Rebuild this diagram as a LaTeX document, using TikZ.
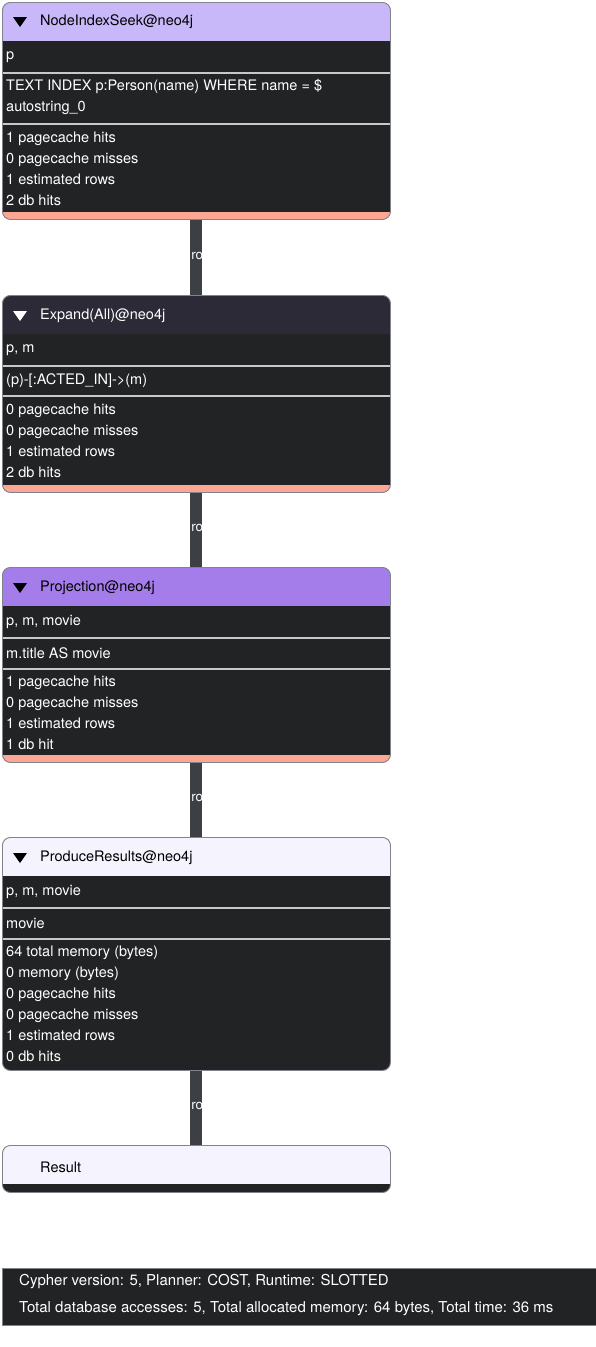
\documentclass[tikz,border=0pt]{standalone}
\usepackage{fontspec}
\setmainfont{TeX Gyre Heros}
\usetikzlibrary{positioning}

\definecolor{seekhead}{HTML}{C9B8F9}
\definecolor{expandhead}{HTML}{2B2A36}
\definecolor{projhead}{HTML}{A47DEA}
\definecolor{lighthead}{HTML}{F5F3FE}
\definecolor{bodybg}{HTML}{222325}
\definecolor{boxline}{HTML}{80838C}
\definecolor{sepgray}{HTML}{C8C8CA}
\definecolor{salmon}{HTML}{FBA794}
\definecolor{connbg}{HTML}{3C3F44}

\begin{document}
\begin{tikzpicture}[
    x=1pt, y=-1pt, % pixel coordinates, y grows downwards
    font=\fontsize{14.5}{21}\selectfont,
    opbox/.style 2 args={draw=boxline, line width=0.9pt, fill=bodybg, rounded corners=8pt,
        minimum width=388pt, inner sep=0pt, anchor=north west,
        path picture={
            \fill[#1, sharp corners] (path picture bounding box.north west) rectangle ([yshift=-38.5pt]path picture bounding box.north east);
            \fill[#2, sharp corners] (path picture bounding box.south west) rectangle ([yshift=7pt]path picture bounding box.south east);}},
    titletext/.style={anchor=west, inner sep=0pt},
    rowtext/.style={anchor=west, inner sep=0pt, text=white, align=left},
    sepline/.style={draw=sepgray, line width=1.5pt},
    conn/.style={draw=connbg, line width=12pt},
    rowlabel/.style={text=white, inner sep=0pt, font=\fontsize{13.5}{13.5}\selectfont}
]
\useasboundingbox (0,0) rectangle (595,1347);

% NodeIndexSeek
\node (seek) [opbox={seekhead}{salmon}, minimum height=217pt] at (2,2) {};
\node (seek_title) [titletext] at (40,22) {NodeIndexSeek@neo4j};
\fill ([xshift=-27pt, yshift=5pt]seek_title.west) -- ++(14,0) -- ++(-7,10) -- cycle;
\node (seek_vars) [rowtext] at (6,57) {p};
\draw[sepline] (2.5,73) -- (389.5,73);
\node (seek_args) [rowtext] at (6,96.5) {TEXT INDEX p:Person(name) WHERE name = \$\\autostring\_0};
\draw[sepline] (2.5,124) -- (389.5,124);
\node (seek_stats) [rowtext] at (6,168.5) {1 pagecache hits\\0 pagecache misses\\1 estimated rows\\2 db hits};

% Expand(All)
\node (expand) [opbox={expandhead}{salmon}, minimum height=197pt] at (2,295) {};
\node (expand_title) [titletext, text=white] at (40,316) {Expand(All)@neo4j};
\fill[white] ([xshift=-27pt, yshift=5pt]expand_title.west) -- ++(14,0) -- ++(-7,10) -- cycle;
\node (expand_vars) [rowtext] at (6,350) {p, m};
\draw[sepline] (2.5,366) -- (389.5,366);
\node (expand_args) [rowtext] at (6,381) {(p)-[:ACTED\_IN]->(m)};
\draw[sepline] (2.5,396) -- (389.5,396);
\node (expand_stats) [rowtext] at (6,440.5) {0 pagecache hits\\0 pagecache misses\\1 estimated rows\\2 db hits};

% Projection
\node (proj) [opbox={projhead}{salmon}, minimum height=195pt] at (2,567) {};
\node (proj_title) [titletext] at (40,588) {Projection@neo4j};
\fill ([xshift=-27pt, yshift=5pt]proj_title.west) -- ++(14,0) -- ++(-7,10) -- cycle;
\node (proj_vars) [rowtext] at (6,622) {p, m, movie};
\draw[sepline] (2.5,638) -- (389.5,638);
\node (proj_args) [rowtext] at (6,653) {m.title AS movie};
\draw[sepline] (2.5,669) -- (389.5,669);
\node (proj_stats) [rowtext] at (6,713) {1 pagecache hits\\0 pagecache misses\\1 estimated rows\\1 db hit};

% ProduceResults
\node (produce) [opbox={lighthead}{bodybg}, minimum height=233pt] at (2,837) {};
\node (produce_title) [titletext] at (40,858) {ProduceResults@neo4j};
\fill ([xshift=-27pt, yshift=5pt]produce_title.west) -- ++(14,0) -- ++(-7,10) -- cycle;
\node (produce_vars) [rowtext] at (6,892) {p, m, movie};
\draw[sepline] (2.5,908) -- (389.5,908);
\node (produce_args) [rowtext] at (6,923) {movie};
\draw[sepline] (2.5,939) -- (389.5,939);
\node (produce_stats) [rowtext] at (6,1004) {64 total memory (bytes)\\0 memory (bytes)\\0 pagecache hits\\0 pagecache misses\\1 estimated rows\\0 db hits};

% Result
\node (result) [opbox={lighthead}{bodybg}, minimum height=47pt] at (2,1145) {};
\node (result_title) [titletext] at (40,1167) {Result};

% connectors with row counts
\draw[conn] (seek.south) -- node[rowlabel, pos=0.46] (seek_rows) {1 row} (expand.north);
\draw[conn] (expand.south) -- node[rowlabel, pos=0.46] (expand_rows) {1 row} (proj.north);
\draw[conn] (proj.south) -- node[rowlabel, pos=0.46] (proj_rows) {1 row} (produce.north);
\draw[conn] (produce.south) -- node[rowlabel, pos=0.46] (produce_rows) {1 row} (result.north);

% Summary
\node (summary) [draw=boxline, line width=0.9pt, fill=bodybg, minimum width=600pt, minimum height=57pt, inner sep=0pt, anchor=north west] at (2,1268) {};
\node (summary_plan) [rowtext, font=\fontsize{15}{15}\selectfont] at (19,1282) {Cypher version: 5, Planner: COST, Runtime: SLOTTED};
\node (summary_totals) [rowtext, font=\fontsize{15}{15}\selectfont] at (19,1309) {Total database accesses: 5, Total allocated memory: 64 bytes, Total time: 36 ms};

\end{tikzpicture}
\end{document}
